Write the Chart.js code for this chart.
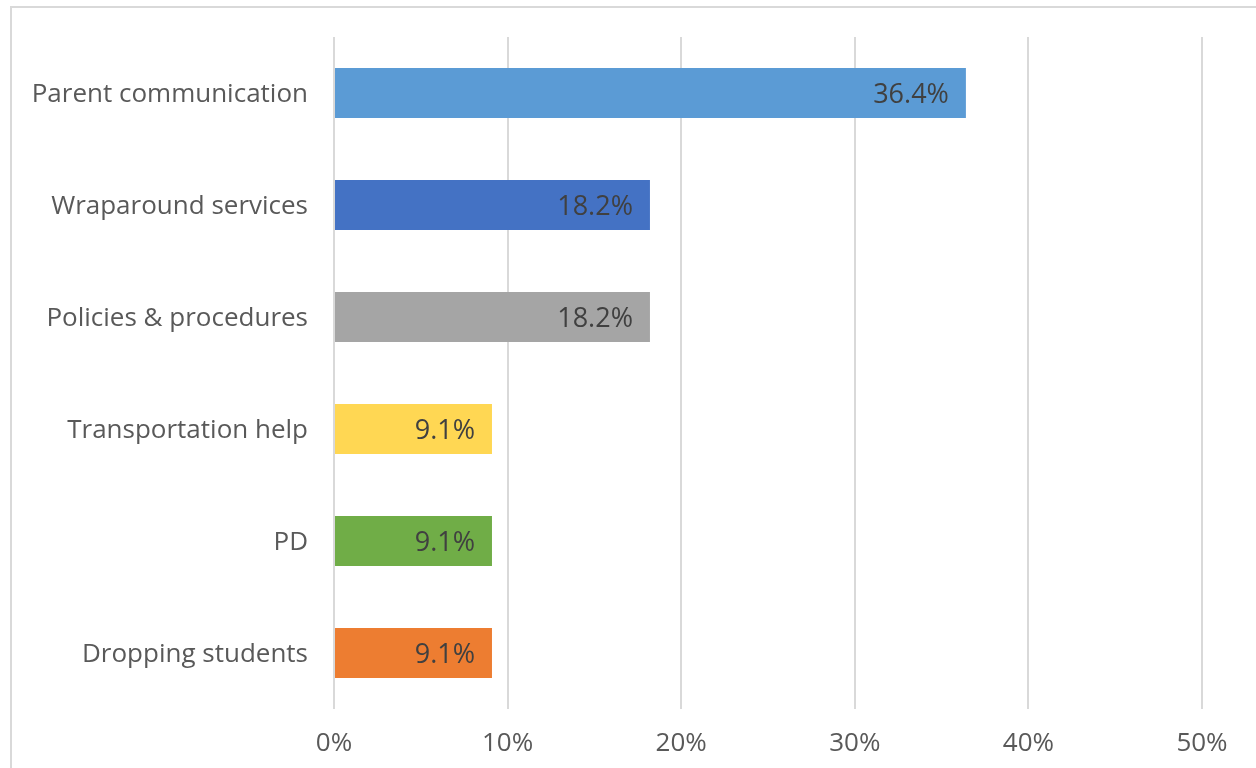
<!DOCTYPE html>
<html>
<head>
<meta charset="utf-8">
<script src="https://cdn.jsdelivr.net/npm/chart.js@4/dist/chart.umd.min.js"></script>
<style>
  html, body { margin: 0; padding: 0; background: #ffffff; }
  #wrap { width: 1256px; height: 768px; position: relative; }
</style>
</head>
<body>
<div id="wrap"><canvas id="c" width="1256" height="768"></canvas></div>
<script>
// Categories and shares (percent of responses)
const categories = [
  "Parent communication",
  "Wraparound services",
  "Policies & procedures",
  "Transportation help",
  "PD",
  "Dropping students"
];
const shares = [36.4, 18.2, 18.2, 9.1, 9.1, 9.1];
const barColors = ["#5B9BD5", "#4472C4", "#A5A5A5", "#FFD753", "#70AD47", "#ED7D31"];
const xTicks = [0, 10, 20, 30, 40, 50];

const FONT = "'Open Sans', 'Liberation Sans', sans-serif";

// Light frame around the chart area of the page
const framePlugin = {
  id: "frame",
  beforeDraw(chart) {
    const ctx = chart.ctx;
    ctx.save();
    ctx.strokeStyle = "#d9d9d9";
    ctx.lineWidth = 2;
    ctx.beginPath();
    ctx.moveTo(11, 780);
    ctx.lineTo(11, 7);
    ctx.lineTo(1270, 7);
    ctx.stroke();
    ctx.restore();
  }
};

// Value labels drawn inside the end of each bar
const valueLabels = {
  id: "valueLabels",
  afterDatasetsDraw(chart) {
    const ctx = chart.ctx;
    const meta = chart.getDatasetMeta(0);
    ctx.save();
    ctx.font = "27px " + FONT;
    ctx.fillStyle = "#404040";
    ctx.textAlign = "right";
    ctx.textBaseline = "middle";
    meta.data.forEach((bar, i) => {
      const v = chart.data.datasets[0].data[i];
      ctx.fillText(v.toFixed(1) + "%", bar.x - 17, bar.y + 2);
    });
    ctx.restore();
  }
};

new Chart(document.getElementById("c"), {
  type: "bar",
  data: {
    labels: categories,
    datasets: [{
      data: shares,
      backgroundColor: barColors,
      borderWidth: 0,
      barPercentage: 0.446,
      categoryPercentage: 1.0
    }]
  },
  options: {
    indexAxis: "y",
    responsive: false,
    animation: false,
    devicePixelRatio: 1,
    layout: { padding: { left: 0, right: 54, top: 37, bottom: 0 } },
    plugins: { legend: { display: false }, tooltip: { enabled: false } },
    scales: {
      x: {
        min: 0,
        max: 50,
        afterBuildTicks(axis) { axis.ticks = xTicks.map(v => ({ value: v })); },
        afterFit(axis) { axis.height = 59; axis.paddingLeft = 0; axis.paddingRight = 0; },
        grid: { color: "#d9d9d9", lineWidth: 2, drawTicks: false },
        border: { display: false },
        ticks: {
          padding: 19,
          color: "#595959",
          font: { family: FONT, size: 26 },
          callback: v => v + "%"
        }
      },
      y: {
        afterFit(axis) { axis.width = 334; axis.paddingTop = 0; axis.paddingBottom = 0; },
        grid: { display: false },
        border: { display: false },
        ticks: {
          padding: 18,
          labelOffset: 2,
          color: "#595959",
          font: { family: FONT, size: 26 }
        }
      }
    }
  },
  plugins: [framePlugin, valueLabels]
});
</script>
</body>
</html>
